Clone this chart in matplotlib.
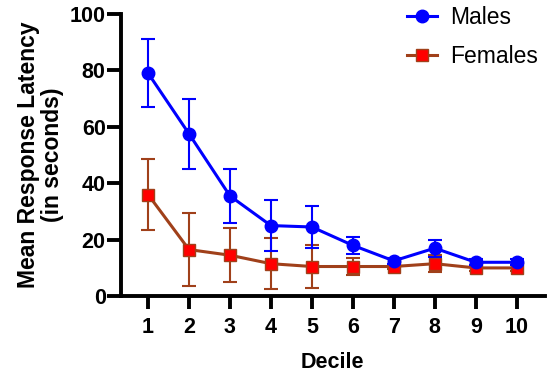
import matplotlib
matplotlib.use('Agg')
import matplotlib.pyplot as plt
from matplotlib.lines import Line2D
import numpy as np

plt.rcParams['font.family'] = ['Liberation Sans', 'DejaVu Sans']
plt.rcParams['font.weight'] = 'bold'

deciles = np.arange(1, 11)
males = [79, 57.5, 35.5, 25, 24.5, 18, 12.5, 17, 12, 12]
males_err = [12, 12.5, 9.5, 9, 7.5, 3, 1, 3, 1, 1]
females = [36, 16.5, 14.5, 11.5, 10.5, 10.5, 10.5, 11.5, 10, 10]
females_err = [12.5, 13, 9.5, 9, 7.5, 3, 1, 3, 1, 1]

blue = '#0000FF'
brown = '#A0401A'
red = '#FF0000'

fig = plt.figure(figsize=(5.5, 3.73), dpi=100)
ax = fig.add_axes([0.22, 0.206, 0.77, 0.757])

ax.errorbar(deciles, males, yerr=males_err, color=blue, marker='o',
            markersize=9, linewidth=2.2, elinewidth=1.5, capsize=5, capthick=1.5,
            zorder=3)
ax.errorbar(deciles, females, yerr=females_err, color=brown, marker='s',
            markerfacecolor=red, markeredgecolor=brown, markersize=8.5,
            linewidth=2.2, elinewidth=1.5, capsize=5, capthick=1.5,
            zorder=2)

ax.set_xlim(0.34, 10.68)
ax.set_ylim(0, 100)
ax.set_xticks(deciles)
ax.set_yticks([0, 20, 40, 60, 80, 100])
ax.spines['top'].set_visible(False)
ax.spines['right'].set_visible(False)
for s in ['left', 'bottom']:
    ax.spines[s].set_linewidth(2.8)
ax.tick_params(axis='y', width=2.8, length=10, labelsize=15.5, pad=1)
ax.tick_params(axis='x', width=2.8, length=9, labelsize=15.5, pad=6)
ax.set_xlabel('Decile', fontsize=15.5, fontweight='bold', labelpad=10)
ax.set_ylabel('Mean Response Latency\n(in seconds)', fontsize=16.5,
              fontweight='bold', labelpad=4, linespacing=1.05)

handles = [
    Line2D([], [], color=blue, marker='o', markersize=9, linewidth=2.2),
    Line2D([], [], color=brown, marker='s', markerfacecolor=red,
           markeredgecolor=brown, markersize=8.5, linewidth=2.2),
]
leg = ax.legend(handles, ['Males', 'Females'], loc='upper right', frameon=False,
                fontsize=16.5, handlelength=1.3, handletextpad=0.6,
                labelspacing=0.7, bbox_to_anchor=(1.034, 1.1))
for t in leg.get_texts():
    t.set_fontweight('normal')

fig.savefig('out.png', dpi=100)
